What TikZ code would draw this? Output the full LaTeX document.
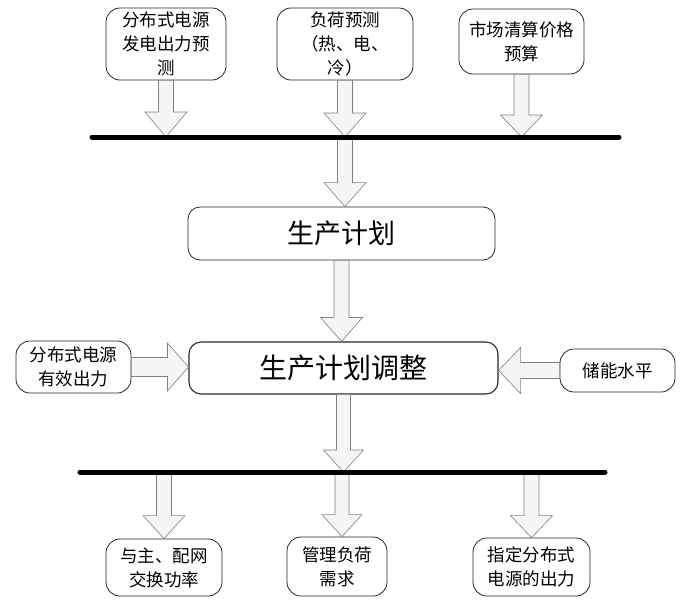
\documentclass[tikz,border=0pt]{standalone}
\usepackage{fontspec}
\newfontfamily\cjk{Noto Sans CJK SC}
\usetikzlibrary{calc}
\tikzset{
  box/.style={draw=black!85, line width=0.8pt, rounded corners=14pt, align=center,
    inner sep=0pt, font=\cjk\fontsize{17.5}{24}\selectfont},
  bigbox/.style={box, rounded corners=12pt, font=\cjk\fontsize{27}{30}\selectfont},
  blockarr/.style={draw=black!50, line width=0.6pt, fill=black!4, line join=miter},
  bar/.style={line width=5pt, line cap=round, black}
}
% start, end, half shaft width, half head width, head length
\newcommand\blockarrow[5]{%
  \coordinate (ba) at ($(#2)!#5!(#1)$);
  \draw[blockarr] ($(#1)!#3!90:(#2)$) -- ($(ba)!#3!90:(#2)$) -- ($(ba)!#4!90:(#2)$)
    -- (#2) -- ($(ba)!#4!-90:(#2)$) -- ($(ba)!#3!-90:(#2)$) -- ($(#1)!#3!-90:(#2)$) -- cycle;
}
\begin{document}
\begin{tikzpicture}[x=1pt,y=-1pt]
\useasboundingbox (0,0) rectangle (680,606);
% top boxes
\node[box, minimum width=120pt, minimum height=72pt] (A) at (166,44) {分布式电源\\发电出力预\\测};
\node[box, minimum width=136pt, minimum height=72pt] (B) at (345,44) {负荷预测\\（热、电、\\冷）};
\node[box, minimum width=125pt, minimum height=65pt] (C) at (521.5,41.5) {市场清算价格\\预算};
% plan boxes
\node[bigbox, minimum width=307pt, minimum height=53pt] (P) at (341.5,233.5) {生产计划};
\node[bigbox, line width=1.1pt, minimum width=309pt, minimum height=52pt, font=\cjk\fontsize{28}{30}\selectfont] (Q) at (343.5,368) {生产计划调整};
% side boxes
\node[box, minimum width=115pt, minimum height=52pt] (L) at (73.5,367) {分布式电源\\有效出力};
\node[box, minimum width=115pt, minimum height=43pt] (R) at (617.5,370.5) {储能水平};
% bottom boxes
\node[box, minimum width=116pt, minimum height=57pt] (D1) at (164,567.5) {与主、配网\\交换功率};
\node[box, minimum width=100pt, minimum height=59pt] (D2) at (337,566.5) {管理负荷\\需求};
\node[box, minimum width=117pt, minimum height=58pt] (D3) at (531.5,567) {指定分布式\\电源的出力};
% bars
\coordinate (b1L) at (92,137);
\coordinate (b1R) at (619,137);
\coordinate (b2L) at (80,472);
\coordinate (b2R) at (605,472);
% arrows
\blockarrow{A.south}{A.south |- b1L}{7.5pt}{21pt}{25pt}
\blockarrow{B.south}{B.south |- b1L}{7.5pt}{21pt}{24pt}
\blockarrow{C.south}{C.south |- b1L}{7.5pt}{21pt}{22pt}
\blockarrow{B.south |- b1L}{B.south |- P.north}{7.5pt}{21pt}{24pt}
\blockarrow{P.south}{P.south |- Q.north}{7.5pt}{21pt}{24pt}
\blockarrow{L.east}{L.east -| Q.west}{9.5pt}{24pt}{21pt}
\blockarrow{R.west}{R.west -| Q.east}{8pt}{23pt}{22pt}
\blockarrow{Q.south}{Q.south |- b2L}{7pt}{20pt}{22pt}
\blockarrow{D1.north |- b2L}{D1.north}{7.5pt}{21pt}{23pt}
\blockarrow{[xshift=5pt]D2.north |- b2L}{[xshift=5pt]D2.north}{7pt}{20pt}{22pt}
\blockarrow{D3.north |- b2L}{D3.north}{7.5pt}{21pt}{22pt}
\draw[bar] (b1L) -- (b1R);
\draw[bar] (b2L) -- (b2R);
\end{tikzpicture}
\end{document}
